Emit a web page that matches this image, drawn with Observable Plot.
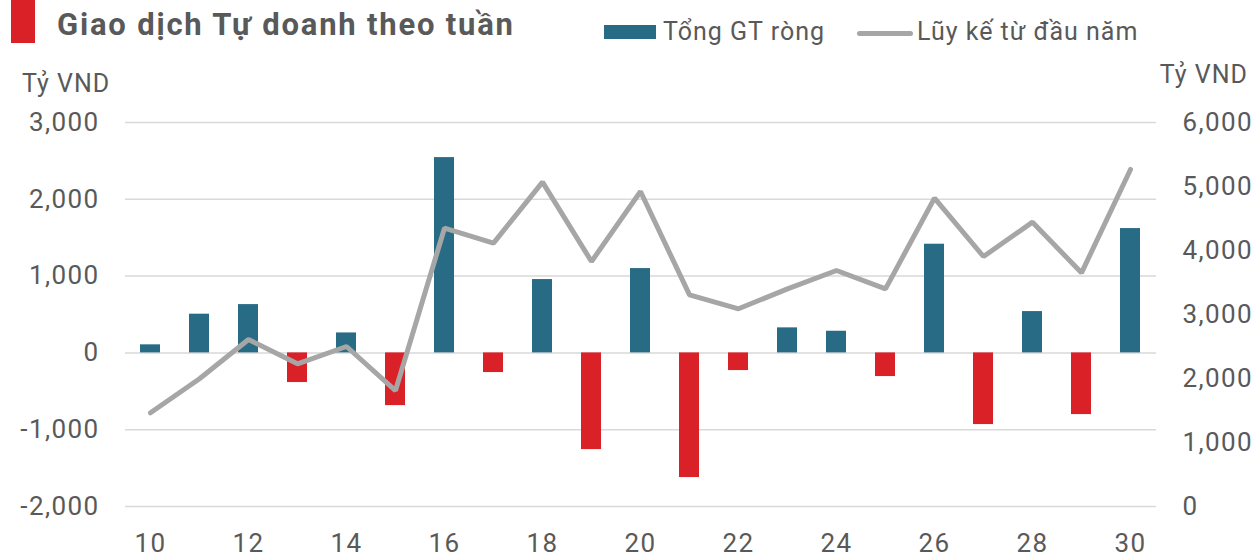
<!DOCTYPE html>
<html>
<head>
<meta charset="utf-8">
<script src="https://cdn.jsdelivr.net/npm/d3@7"></script>
<script src="https://cdn.jsdelivr.net/npm/@observablehq/plot@0.6"></script>
<style>
  html, body { margin: 0; padding: 0; background: #fff; }
  body { width: 1258px; height: 557px; overflow: hidden; font-family: Roboto, sans-serif; color: #595959; }
  #header { position: relative; width: 1258px; height: 100px; }
  #header .t { position: absolute; white-space: nowrap; line-height: 1; letter-spacing: 1px; }
  #chart svg { display: block; }
</style>
</head>
<body>
<div id="header">
  <div style="position:absolute;left:11px;top:0;width:24px;height:43px;background:#DA2128"></div>
  <div class="t" style="left:57px;top:8.5px;font-size:31px;font-weight:700;letter-spacing:1.8px;">Giao dịch Tự doanh theo tuần</div>
  <div style="position:absolute;left:604px;top:25px;width:52px;height:14px;background:#286B84"></div>
  <div class="t" style="left:663px;top:19px;font-size:25px;">Tổng GT ròng</div>
  <div style="position:absolute;left:857px;top:31px;width:56px;height:5px;border-radius:3px;background:#A6A6A6"></div>
  <div class="t" style="left:917px;top:19px;font-size:25px;">Lũy kế từ đầu năm</div>
  <div class="t" style="left:22px;top:71px;font-size:25px;">Tỷ VND</div>
  <div class="t" style="right:10px;top:62px;font-size:25px;">Tỷ VND</div>
</div>
<div id="chart"></div>
<script>
const weeks = [10, 11, 12, 13, 14, 15, 16, 17, 18, 19, 20, 21, 22, 23, 24, 25, 26, 27, 28, 29, 30];
const netValue = [105, 504, 629, -386, 260, -686, 2543, -256, 955, -1259, 1098, -1623, -230, 326, 282, -308, 1415, -933, 538, -803, 1619];
const cumulative = [1464, 1995, 2609, 2229, 2500, 1812, 4349, 4115, 5068, 3828, 4922, 3307, 3089, 3401, 3688, 3401, 4818, 3906, 4443, 3651, 5266];
const xTicks = [10, 12, 14, 16, 18, 20, 22, 24, 26, 28, 30];
const leftTicks = [-2000, -1000, 0, 1000, 2000, 3000];
const rightTicks = [0, 1000, 2000, 3000, 4000, 5000, 6000];

const data = weeks.map((w, i) => ({week: w, net: netValue[i], cum: cumulative[i]}));
const leftMin = -2000, leftMax = 3000, rightMin = 0, rightMax = 6000;
const toLeft = v => leftMin + (v - rightMin) / (rightMax - rightMin) * (leftMax - leftMin);
const toRight = v => rightMin + (v - leftMin) / (leftMax - leftMin) * (rightMax - rightMin);
const comma = d3.format(",");
const fmt = d => (d < 0 ? "-" : "") + comma(Math.abs(Math.round(d)));

const chart = Plot.plot({
  width: 1258,
  height: 457,
  marginTop: 22,
  marginBottom: 51,
  marginLeft: 125,
  marginRight: 102,
  style: {fontFamily: "Roboto, sans-serif", fontSize: "26px", color: "#595959", background: "#fff", letterSpacing: "1.4px"},
  x: {type: "band", domain: weeks, paddingInner: 0.59, paddingOuter: 0.295},
  y: {domain: [leftMin, leftMax]},
  marks: [
    Plot.gridY(leftTicks, {stroke: "#D9D9D9", strokeOpacity: 1, strokeWidth: 1.5}),
    Plot.barY(data.filter(d => d.net >= 0), {x: "week", y: "net", fill: "#286B84"}),
    Plot.barY(data.filter(d => d.net < 0), {x: "week", y: "net", fill: "#DA2128"}),
    Plot.line(data, {x: "week", y: d => toLeft(d.cum), stroke: "#A6A6A6", strokeWidth: 5, strokeLinejoin: "miter", strokeLinecap: "round"}),
    Plot.axisY(leftTicks, {anchor: "left", label: null, tickSize: 0, tickPadding: 26, tickFormat: fmt, fill: "#595959"}),
    Plot.axisY(rightTicks.map(toLeft), {anchor: "right", label: null, tickSize: 0, tickPadding: 26, tickFormat: d => fmt(toRight(d)), fill: "#595959", textAnchor: "start"}),
    Plot.axisX(xTicks, {anchor: "bottom", label: null, tickSize: 0, tickPadding: 27, fill: "#595959"})
  ]
});
document.getElementById("chart").appendChild(chart);
</script>
</body>
</html>
